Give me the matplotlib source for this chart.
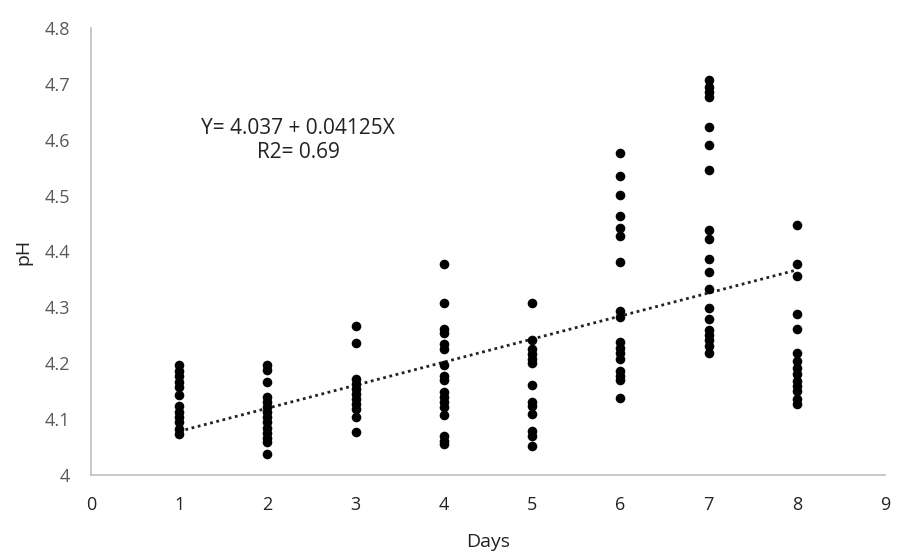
import matplotlib
matplotlib.use("Agg")
import matplotlib.pyplot as plt
import numpy as np

plt.rcParams['font.family'] = ['Open Sans', 'DejaVu Sans']

day1 = [4.196, 4.186, 4.177, 4.167, 4.158, 4.143, 4.123, 4.112, 4.103, 4.094, 4.082, 4.073]
day2 = [4.196, 4.188, 4.167, 4.139, 4.130, 4.121, 4.112, 4.103, 4.094, 4.085, 4.076, 4.067, 4.059, 4.0375]
day3 = [4.267, 4.237, 4.171, 4.163, 4.154, 4.145, 4.136, 4.127, 4.118, 4.103, 4.077]
day4 = [4.377, 4.307, 4.261, 4.255, 4.234, 4.226, 4.196, 4.177, 4.170, 4.148, 4.139,
        4.130, 4.121, 4.107, 4.070, 4.061, 4.055]
day5 = [4.307, 4.242, 4.225, 4.216, 4.207, 4.201, 4.161, 4.131, 4.124, 4.109, 4.079, 4.070, 4.052]
day6 = [4.576, 4.536, 4.502, 4.463, 4.442, 4.427, 4.382, 4.293, 4.282, 4.238, 4.228,
        4.219, 4.208, 4.186, 4.177, 4.170, 4.1375]
day7 = [4.707, 4.695, 4.685, 4.676, 4.622, 4.591, 4.546, 4.438, 4.423, 4.387, 4.363,
        4.332, 4.298, 4.280, 4.259, 4.250, 4.241, 4.231, 4.218]
day8 = [4.447, 4.377, 4.356, 4.288, 4.262, 4.218, 4.204, 4.192, 4.180, 4.168, 4.159,
        4.151, 4.136, 4.127]
days = [1, 2, 3, 4, 5, 6, 7, 8]
ph_by_day = [day1, day2, day3, day4, day5, day6, day7, day8]

intercept = 4.037
slope = 0.04125
equation_text = "Y= 4.037 + 0.04125X\nR2= 0.69"

xticks = [0, 1, 2, 3, 4, 5, 6, 7, 8, 9]
yticks = [4.0, 4.1, 4.2, 4.3, 4.4, 4.5, 4.6, 4.7, 4.8]
ytick_labels = ["4", "4.1", "4.2", "4.3", "4.4", "4.5", "4.6", "4.7", "4.8"]

fig = plt.figure(figsize=(9.13, 5.57), dpi=100)
ax = fig.add_axes([91/913, 1 - 475/557, (885 - 91)/913, (475 - 28)/557])

xs = np.concatenate([[d] * len(v) for d, v in zip(days, ph_by_day)])
ys = np.concatenate(ph_by_day)
ax.scatter(xs, ys, s=48, color='black', zorder=3, linewidths=0)

xl = np.array([days[0], days[-1]])
ax.plot(xl, intercept + slope * xl, linestyle=(0, (1, 1.3)), color='#222222', lw=2.0, zorder=2)

ax.text(2.35, 4.598, equation_text, ha='center', va='center', fontsize=15,
        color='#222222', linespacing=1.2)

ax.set_xlim(0, 9)
ax.set_ylim(4.0, 4.8)
ax.set_xticks(xticks)
ax.set_yticks(yticks)
ax.set_yticklabels(ytick_labels)
ax.tick_params(axis='both', length=0, labelsize=13)
ax.tick_params(axis='y', colors='#595959', pad=15)
ax.tick_params(axis='x', colors='#222222', pad=15)
for sp in ['top', 'right']:
    ax.spines[sp].set_visible(False)
for sp in ['left', 'bottom']:
    ax.spines[sp].set_color('#BFBFBF')
    ax.spines[sp].set_linewidth(1.2)

ax.set_xlabel("Days", fontsize=14, color='#222222', labelpad=14)
ax.set_ylabel("pH", fontsize=14, color='#222222', labelpad=9)

fig.savefig("out.png", dpi=100, facecolor='white')
